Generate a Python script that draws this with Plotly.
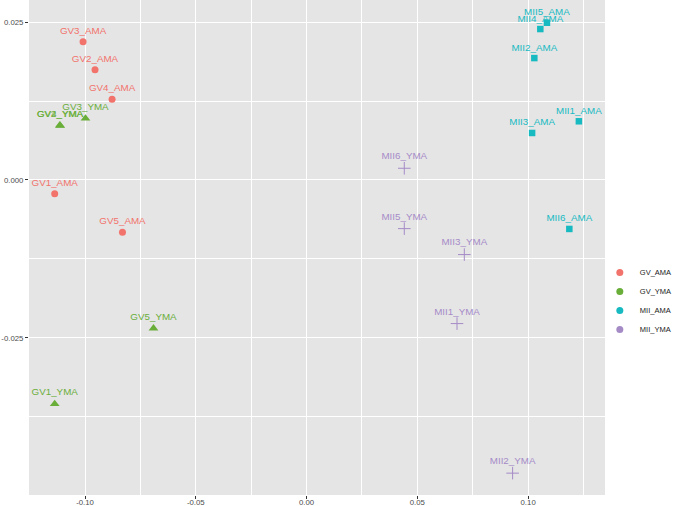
import plotly.graph_objects as go

# ---- data ----
groups = ["GV_AMA", "GV_YMA", "MII_AMA", "MII_YMA"]

gv_ama_labels = ["GV1_AMA", "GV2_AMA", "GV3_AMA", "GV4_AMA", "GV5_AMA"]
gv_ama_x = [-0.1137, -0.0955, -0.1009, -0.0878, -0.0831]
gv_ama_y = [-0.00217, 0.01747, 0.02190, 0.01278, -0.00828]

gv_yma_labels = ["GV1_YMA", "GV2_YMA", "GV3_YMA", "GV4_YMA", "GV5_YMA"]
gv_yma_x = [-0.1137, -0.1114, -0.0998, -0.1112, -0.0691]
gv_yma_y = [-0.03547, 0.00866, 0.00974, 0.00860, -0.02350]

mii_ama_labels = ["MII1_AMA", "MII2_AMA", "MII3_AMA", "MII4_AMA", "MII5_AMA", "MII6_AMA"]
mii_ama_x = [0.1229, 0.1028, 0.1018, 0.1055, 0.1085, 0.1186]
mii_ama_y = [0.00929, 0.01930, 0.00744, 0.02390, 0.02490, -0.00776]

mii_yma_labels = ["MII1_YMA", "MII2_YMA", "MII3_YMA", "MII5_YMA", "MII6_YMA"]
mii_yma_x = [0.0679, 0.0930, 0.0712, 0.0441, 0.0441]
mii_yma_y = [-0.02275, -0.04644, -0.01182, -0.00771, 0.00185]

x_ticks = [-0.10, -0.05, 0.00, 0.05, 0.10]
x_tick_labels = ["-0.10", "-0.05", "0.00", "0.05", "0.10"]
y_ticks = [-0.025, 0.000, 0.025]
y_tick_labels = ["-0.025", "0.000", "0.025"]

# ---- styling ----
colors = {"GV_AMA": "#F2736B", "GV_YMA": "#6AAE3A", "MII_AMA": "#17BAC1", "MII_YMA": "#A58BC6"}
symbols = {"GV_AMA": "circle", "GV_YMA": "triangle-up", "MII_AMA": "square", "MII_YMA": "cross-thin-open"}
sizes = {"GV_AMA": 7, "GV_YMA": 8.5, "MII_AMA": 6.5, "MII_YMA": 9}
FONT = "Liberation Sans, Arial, sans-serif"

series = {
    "GV_AMA": (gv_ama_x, gv_ama_y, gv_ama_labels),
    "GV_YMA": (gv_yma_x, gv_yma_y, gv_yma_labels),
    "MII_AMA": (mii_ama_x, mii_ama_y, mii_ama_labels),
    "MII_YMA": (mii_yma_x, mii_yma_y, mii_yma_labels),
}

fig = go.Figure()
for g in groups:
    xs, ys, labs = series[g]
    marker = dict(color=colors[g], symbol=symbols[g], size=sizes[g])
    if g == "MII_YMA":
        marker["line"] = dict(color=colors[g], width=1)
    fig.add_trace(go.Scatter(
        x=xs, y=ys, text=labs, mode="markers+text", textposition="top center",
        textfont=dict(family=FONT, size=9.8, color=colors[g]),
        marker=marker, name=g, legendgroup=g, showlegend=False, cliponaxis=False,
        hoverinfo="text",
    ))
# legend entries (ggplot shows coloured dots only)
for g in groups:
    fig.add_trace(go.Scatter(
        x=[None], y=[None], mode="markers", name=g, legendgroup=g,
        marker=dict(color=colors[g], symbol="circle", size=7),
    ))

axis_common = dict(
    showgrid=True, gridcolor="white", gridwidth=1.1, zeroline=False, showline=False,
    ticks="outside", ticklen=3, tickwidth=1, tickcolor="#333333", automargin=False,
    tickfont=dict(family=FONT, size=7.8, color="#4D4D4D"),
)

fig.update_xaxes(range=[-0.1253, 0.1347], tickvals=x_ticks, ticktext=x_tick_labels,
                 ticklabelstandoff=-3, **axis_common)
fig.update_yaxes(range=[-0.0499, 0.0285], tickvals=y_ticks, ticktext=y_tick_labels, **axis_common)
fig.update_xaxes(minor=dict(showgrid=True, gridcolor="white", gridwidth=0.5, ticks="",
                            tickvals=[-0.125, -0.075, -0.025, 0.025, 0.075, 0.125]))
fig.update_yaxes(minor=dict(showgrid=True, gridcolor="white", gridwidth=0.5, ticks="",
                            tickvals=[-0.0375, -0.0125, 0.0125]))

fig.update_layout(
    template="none",
    width=673, height=506,
    margin=dict(l=29, r=68, t=0, b=11, pad=0, autoexpand=False),
    paper_bgcolor="white", plot_bgcolor="#E5E5E6",
    font=dict(family=FONT, size=8, color="#1A1A1A"),
    legend=dict(x=0.991, xanchor="left", xref="paper", y=0.392, yanchor="middle",
                font=dict(family=FONT, size=7.5, color="#1A1A1A"),
                bgcolor="rgba(0,0,0,0)", borderwidth=0, itemwidth=30, tracegroupgap=0),
    showlegend=True,
)

fig.write_html("out.html", config={"displayModeBar": False},
               post_script="document.body.style.margin='0';document.body.style.overflow='hidden';")
